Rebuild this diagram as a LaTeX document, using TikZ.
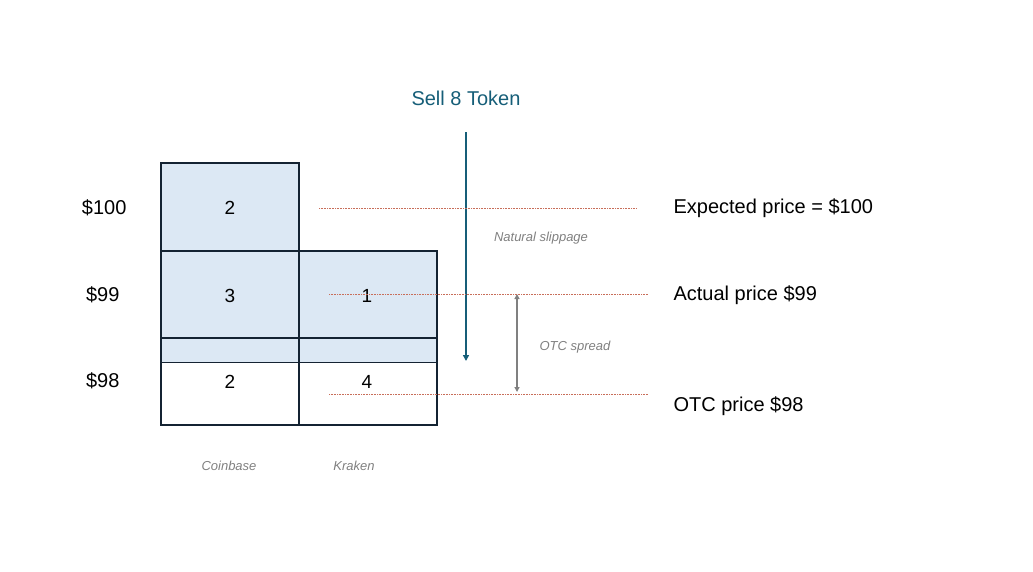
\documentclass[tikz,border=0pt]{standalone}
\usepackage{fontspec}
\setmainfont{Liberation Sans}
\usetikzlibrary{arrows.meta}
\definecolor{teal}{RGB}{22,94,120}
\definecolor{fillb}{RGB}{220,232,244}
\definecolor{edge}{RGB}{20,35,50}
\definecolor{dotc}{RGB}{200,110,90}
\definecolor{greyt}{RGB}{128,128,128}
\begin{document}
\begin{tikzpicture}[x=1pt,y=-1pt,
  cell/.style={draw=edge,line width=1.5pt},
  num/.style={font=\fontsize{19}{22}\selectfont},
  lbl/.style={font=\fontsize{20}{24}\selectfont,anchor=west},
  price/.style={font=\fontsize{20}{24}\selectfont,anchor=east},
  ital/.style={font=\itshape\fontsize{13}{16}\selectfont,text=greyt},
  dline/.style={dotc,densely dotted,line width=0.6pt}]
\useasboundingbox (0,0) rectangle (1033,571);
\fill[fillb] (161,163) rectangle (299,362);
\fill[fillb] (299,251) rectangle (437,362);
\draw[cell] (161,163) rectangle (299,251);
\draw[cell] (161,251) rectangle (299,338);
\draw[cell] (299,251) rectangle (437,338);
\draw[cell] (161,338) rectangle (299,425);
\draw[cell] (299,338) rectangle (437,425);
\draw[edge,line width=0.8pt] (161,362) -- (437,362);
\node[num] (c1) at (230,208) {2};
\node[num] (c2) at (230,296) {3};
\node[num] (k2) at (367,296) {1};
\node[num] (c3) at (230,382) {2};
\node[num] (k3) at (367,382) {4};
\node[price] (p100) at (130,208) {\$100};
\node[price] (p99) at (123,295) {\$99};
\node[price] (p98) at (123,381) {\$98};
\node[lbl] (l1) at (670,208) {Expected price = \$100};
\node[lbl] (l2) at (670,295) {Actual price \$99};
\node[lbl] (l3) at (670,406) {OTC price \$98};
\node[ital] (cb) at (229,466) {Coinbase};
\node[ital] (kr) at (354,466) {Kraken};
\node[ital] (ns) at (541,238) {Natural slippage};
\node[ital] (os) at (575,347) {OTC spread};
\node[font=\fontsize{20}{24}\selectfont,text=teal] (sell) at (466,98) {Sell 8 Token};
\coordinate (a1) at (466,132); \coordinate (a2) at (466,361);
\draw[teal,line width=1.5pt,-{Triangle[length=6pt,width=6pt]}] (a1) -- (a2);
\coordinate (o1) at (517,294); \coordinate (o2) at (517,392);
\draw[greyt,line width=1.3pt,{Triangle[length=5pt,width=5pt]}-{Triangle[length=5pt,width=5pt]}] (o1) -- (o2);
\coordinate (d1a) at (319,208); \coordinate (d1b) at (637,208);
\coordinate (d2a) at (329,294); \coordinate (d2b) at (648,294);
\coordinate (d3a) at (329,394); \coordinate (d3b) at (648,394);
\draw[dline] (d1a) -- (d1b);
\draw[dline] (d2a) -- (d2b);
\draw[dline] (d3a) -- (d3b);
\end{tikzpicture}
\end{document}
